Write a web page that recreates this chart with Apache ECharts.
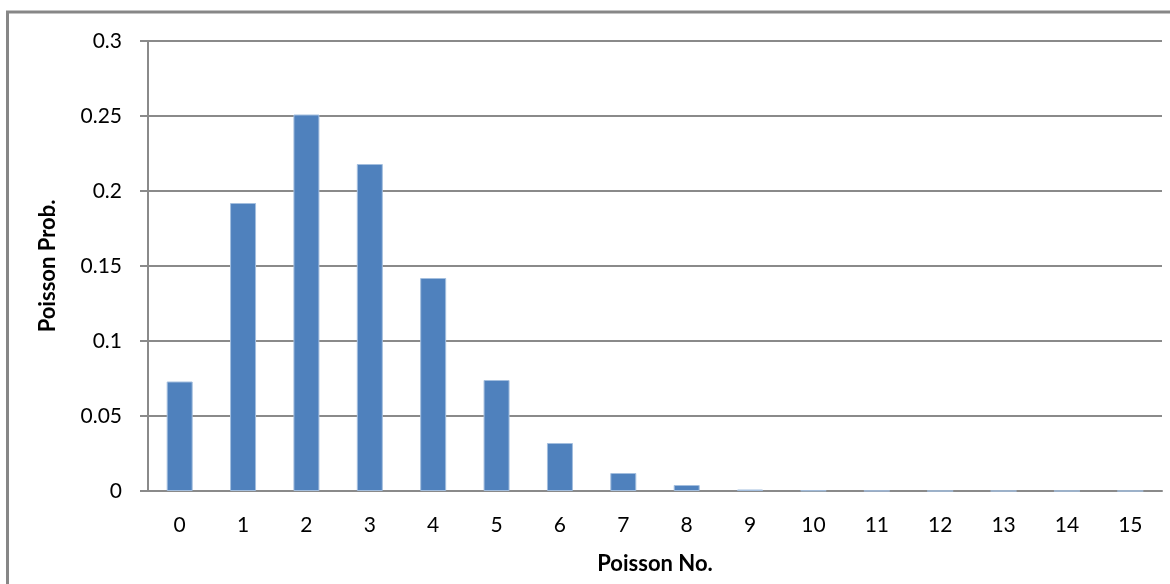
<!DOCTYPE html>
<html>
<head>
<meta charset="utf-8">
<script src="https://cdn.jsdelivr.net/npm/echarts@6/dist/echarts.min.js"></script>
<style>
html,body{margin:0;padding:0;background:#fff;}
#chart{width:1170px;height:584px;}
</style>
</head>
<body>
<div id="chart"></div>
<script>
// 数据
var categories = ['0','1','2','3','4','5','6','7','8','9','10','11','12','13','14','15'];
var probs = [0.073, 0.192, 0.251, 0.218, 0.142, 0.074, 0.032, 0.012, 0.004, 0.001, 0.0003, 0.0001, 0, 0, 0, 0];
var yTicks = [0, 0.05, 0.1, 0.15, 0.2, 0.25, 0.3];

var font = 'Lato, "Open Sans", sans-serif';
var gridColor = '#8a8a8a';

var chart = echarts.init(document.getElementById('chart'));
var option = {
    animation: false,
    backgroundColor: '#fff',
    grid: {
        left: 148,
        right: 8,
        top: 41,
        bottom: 93
    },
    graphic: [
        {
            type: 'rect',
            shape: { x: 7.5, y: 12, width: 1200, height: 620 },
            style: { fill: 'none', stroke: '#878787', lineWidth: 3 },
            silent: true
        }
    ],
    xAxis: {
        type: 'category',
        data: categories,
        name: 'Poisson No.',
        nameLocation: 'middle',
        nameGap: 62,
        nameTextStyle: { fontFamily: font, fontWeight: 'bold', fontSize: 22, color: '#000' },
        axisLine: { lineStyle: { color: gridColor, width: 2 } },
        axisTick: { show: false },
        axisLabel: { fontFamily: font, fontSize: 21, color: '#000', margin: 24 }
    },
    yAxis: {
        type: 'value',
        min: 0,
        max: 0.3,
        interval: 0.05,
        name: 'Poisson Prob.',
        nameLocation: 'middle',
        nameGap: 89,
        nameTextStyle: { fontFamily: font, fontWeight: 'bold', fontSize: 22, color: '#000' },
        axisLine: { show: true, lineStyle: { color: gridColor, width: 2 } },
        axisTick: { show: true, length: 8, lineStyle: { color: gridColor, width: 2 } },
        splitLine: { lineStyle: { color: gridColor, width: 2 } },
        axisLabel: {
            fontFamily: font, fontSize: 21, color: '#000', margin: 26,
            formatter: function (v) {
                for (var i = 0; i < yTicks.length; i++) {
                    if (Math.abs(v - yTicks[i]) < 1e-9) return String(yTicks[i]);
                }
                return '';
            }
        }
    },
    series: [
        {
            type: 'bar',
            data: probs,
            barWidth: '41%',
            itemStyle: { color: '#4f81bd', borderColor: '#a3bede', borderWidth: 1 }
        }
    ]
};
chart.setOption(option);
</script>
</body>
</html>
